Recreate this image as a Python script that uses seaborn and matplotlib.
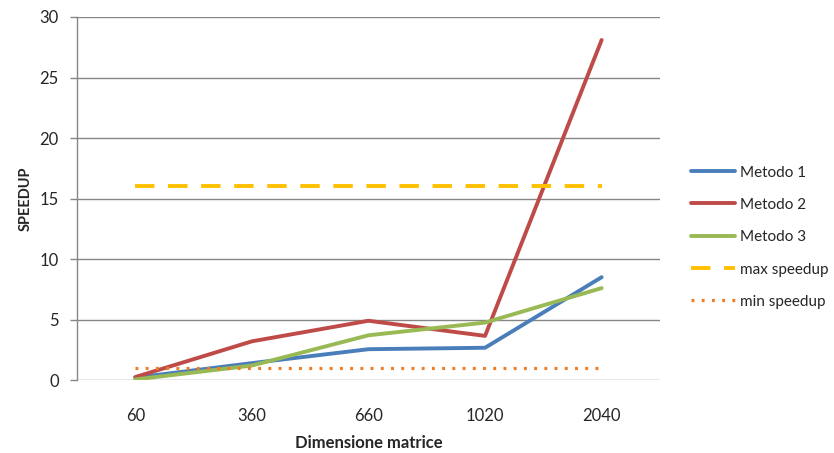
import matplotlib
matplotlib.use("Agg")
import matplotlib.pyplot as plt
import seaborn as sns
import pandas as pd
import numpy as np
from matplotlib.lines import Line2D

categories = ["60", "360", "660", "1020", "2040"]
metodo1 = [0.2, 1.4, 2.55, 2.67, 8.5]
metodo2 = [0.25, 3.2, 4.9, 3.65, 28.1]
metodo3 = [0.05, 1.2, 3.7, 4.75, 7.6]
max_speedup = [16, 16, 16, 16, 16]
min_speedup = [1, 1, 1, 1, 1]

series_names = ["Metodo 1", "Metodo 2", "Metodo 3", "max speedup", "min speedup"]
series_vals = [metodo1, metodo2, metodo3, max_speedup, min_speedup]

rows = []
for name, vals in zip(series_names, series_vals):
    for i, v in enumerate(vals):
        rows.append({"pos": i, "cat": categories[i], "val": v, "serie": name})
df = pd.DataFrame(rows)

sns.set_theme(style="white")
plt.rcParams['font.family'] = ['Lato', 'DejaVu Sans']

fig = plt.figure(figsize=(8.34, 4.53), dpi=100)
ax = fig.add_axes([0.0923, 0.161, 0.699, 0.8015])

palette = {"Metodo 1": "#4A7EBB", "Metodo 2": "#BE4B48", "Metodo 3": "#98B954",
           "max speedup": "#FFC000", "min speedup": "#F07C24"}
dash_map = {"max speedup": (5, 3.5), "min speedup": (0.9, 2.3)}
lw_map = {"min speedup": 2.3}

for name in series_names:
    sub = df[df["serie"] == name]
    kw = {}
    if name in dash_map:
        kw = dict(style="serie", dashes=[dash_map[name]])
    sns.lineplot(data=sub, x="pos", y="val", ax=ax, color=palette[name],
                 lw=lw_map.get(name, 2.8), sort=False, estimator=None,
                 legend=False, **kw)

handles = []
for name in series_names:
    if name in dash_map:
        h = Line2D([], [], color=palette[name], lw=lw_map.get(name, 2.8), dashes=dash_map[name])
    else:
        h = Line2D([], [], color=palette[name], lw=2.8)
    handles.append(h)
fig.legend(handles, series_names, loc="upper left", bbox_to_anchor=(0.812, 0.665),
           frameon=False, fontsize=11, handlelength=2.9, labelspacing=1.2,
           handletextpad=0.3)

ax.set_xlim(-0.5, len(categories) - 0.5)
ax.set_ylim(0, 30)
ax.set_xticks(range(len(categories)))
ax.set_xticklabels(categories)
ax.set_yticks(np.arange(0, 31, 5))
ax.yaxis.grid(True, color="#868686", lw=1)
ax.set_axisbelow(True)
for s in ["top", "right", "bottom"]:
    ax.spines[s].set_visible(False)
ax.spines["left"].set_color("#868686")
ax.spines["left"].set_linewidth(1)
ax.tick_params(axis="y", which="both", left=True, length=5, color="#868686",
               labelsize=12, pad=8, width=1)
ax.tick_params(axis="x", bottom=False, labelsize=12, pad=14)
ax.set_xlabel("Dimensione matrice", fontsize=12, fontweight="bold", labelpad=8)
ax.set_ylabel("SPEEDUP", fontsize=10.5, fontweight="bold", labelpad=5)

fig.savefig("out.png", dpi=100)
